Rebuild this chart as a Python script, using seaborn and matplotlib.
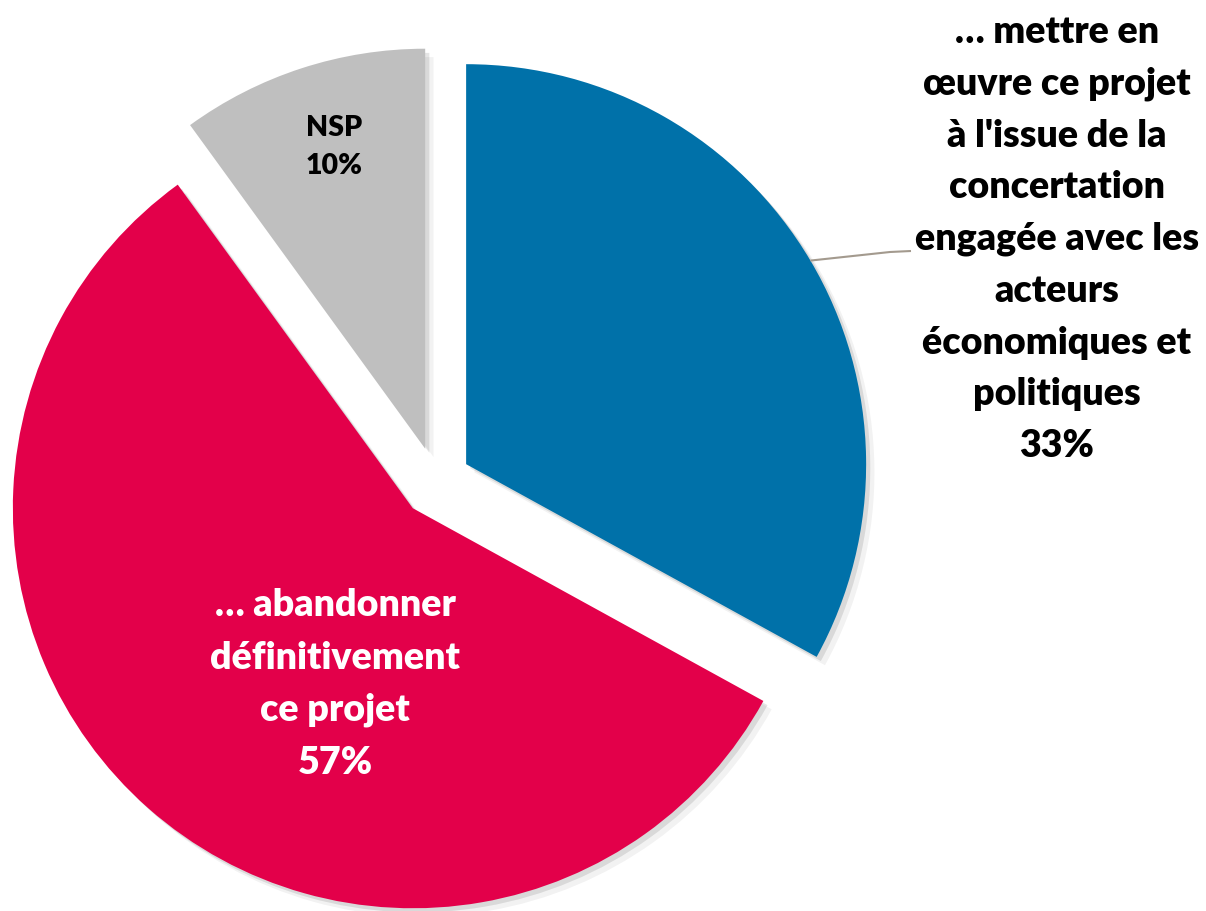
import matplotlib
matplotlib.use("Agg")
import matplotlib.pyplot as plt
import matplotlib.patheffects as pe
import numpy as np
import seaborn as sns

# ---- data ----
categories = [
    "… mettre en\nœuvre ce projet\nà l'issue de la\nconcertation\nengagée avec les\nacteurs\néconomiques et\npolitiques",
    "… abandonner\ndéfinitivement\nce projet",
    "NSP",
]
values = [33, 57, 10]
pct_labels = ["33%", "57%", "10%"]
colors = ["#0071A9", "#E3004A", "#BFBFBF"]

sns.set_theme(style="white")
plt.rcParams["font.family"] = ["Lato", "DejaVu Sans"]

W, H = 1206, 911
fig = plt.figure(figsize=(W / 100, H / 100), dpi=100)
ax = fig.add_axes([0, 0, 1, 1])

R = 400
cx, cy = 436, H - 482
explode = [35] * 3  # matplotlib applies explode in data units

shadow = [pe.SimplePatchShadow(offset=(6, -6), shadow_rgbFace="black", alpha=0.05),
          pe.SimplePatchShadow(offset=(3, -3), shadow_rgbFace="black", alpha=0.10),
          pe.Normal()]

wedges, _ = ax.pie(values, colors=sns.color_palette(colors), startangle=90,
                   counterclock=False, explode=explode, radius=R,
                   center=(cx, cy), wedgeprops=dict(linewidth=0),
                   frame=True)
for w in wedges:
    w.set_path_effects(shadow)

ax.set_xlim(0, W)
ax.set_ylim(0, H)
ax.set_aspect("equal")
ax.axis("off")

fs = 27
wt = "heavy"
# Blue label (outside, right)
blue = wedges[0]
mid = np.deg2rad((blue.theta1 + blue.theta2) / 2)
p0 = (blue.center[0] + blue.r * np.cos(mid), blue.center[1] + blue.r * np.sin(mid))
ax.plot([p0[0], 890, 911], [p0[1], H - 252, H - 251], color="#A39A8E", lw=1.5,
        solid_capstyle="butt")
ax.text(1057, H - 239, categories[0] + "\n" + pct_labels[0], ha="center", va="center",
        fontsize=fs, fontweight=wt, color="black", linespacing=1.63)

# Red label (inside)
ax.text(335, H - 684, categories[1] + "\n" + pct_labels[1], ha="center", va="center",
        fontsize=fs, fontweight=wt, color="white", linespacing=1.66)

# Grey label (inside)
ax.text(334, H - 147, categories[2] + "\n" + pct_labels[2], ha="center", va="center",
        fontsize=20.5, fontweight=wt, color="black", linespacing=1.55)

fig.savefig("out.png", dpi=100, facecolor="white")
